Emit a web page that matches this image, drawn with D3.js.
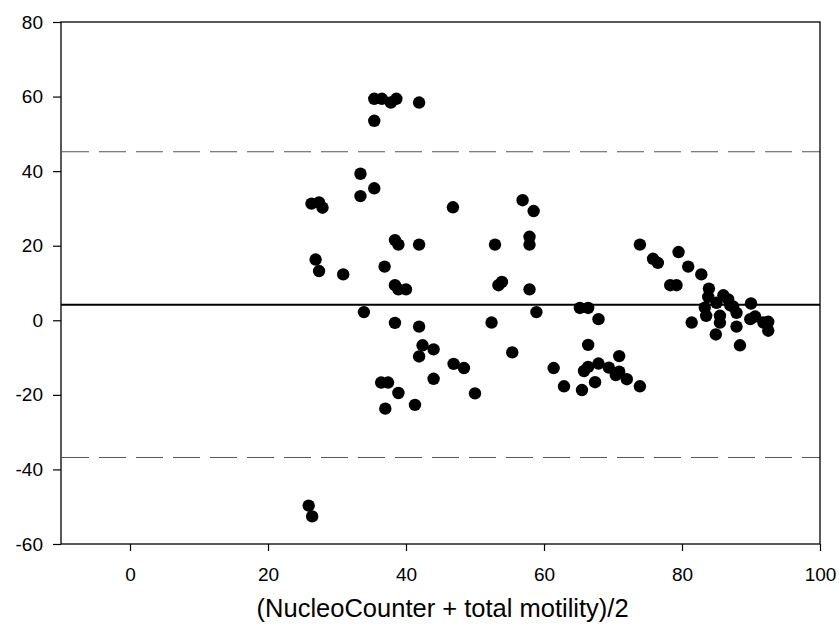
<!DOCTYPE html>
<html>
<head>
<meta charset="utf-8">
<script src="https://cdn.jsdelivr.net/npm/d3@7"></script>
<style>
  body { margin: 0; background: #fff; }
  text { font-family: Arial, "Liberation Sans", sans-serif; fill: #000; }
</style>
</head>
<body>
<svg width="839" height="631"></svg>
<script>
// mean of the two methods (x) and their difference (y)
var meanVals = [35.4, 36.5, 37.8, 38.6, 41.9, 35.4, 33.4, 35.4, 33.4, 26.3, 27.4, 27.9, 46.8,
  38.4, 38.9, 41.9, 26.9, 27.4, 30.9, 36.9, 38.4, 38.9, 40.0, 33.9, 38.4, 41.9, 42.4, 44.0,
  41.9, 46.9, 48.4, 36.4, 37.4, 38.9, 44.0, 50.0, 37.0, 41.3, 25.9, 26.4,
  56.9, 58.5, 52.9, 57.9, 57.9, 53.9, 53.4, 57.9, 58.9, 52.4, 55.4, 61.4, 62.9, 65.5, 67.4,
  65.2, 66.4, 67.9, 66.4, 65.8, 66.4, 67.9, 69.4, 70.9, 70.9, 70.4, 72.0, 73.9,
  73.9, 75.8, 76.5, 78.3, 79.2, 79.5, 80.9, 82.8, 83.9, 83.8, 86.0, 86.7, 83.3, 85.0, 87.4,
  90.0, 83.5, 85.5, 87.9, 81.4, 85.5, 87.9, 89.9, 90.6, 91.8, 92.5, 92.5, 84.9, 88.4, 87.0];
var diffVals = [59.4, 59.4, 58.4, 59.4, 58.4, 53.5, 39.3, 35.4, 33.3, 31.3, 31.6, 30.2, 30.3,
  21.5, 20.3, 20.3, 16.3, 13.2, 12.3, 14.4, 9.4, 8.3, 8.3, 2.2, -0.7, -1.7, -6.7, -7.8,
  -9.7, -11.7, -12.8, -16.7, -16.7, -19.5, -15.7, -19.6, -23.7, -22.7, -49.7, -52.6,
  32.2, 29.3, 20.3, 22.4, 20.3, 10.3, 9.4, 8.3, 2.2, -0.6, -8.6, -12.8, -17.7, -18.7, -16.6,
  3.3, 3.3, 0.3, -6.6, -13.6, -12.5, -11.6, -12.7, -9.6, -13.8, -14.7, -15.8, -17.7,
  20.3, 16.5, 15.4, 9.4, 9.4, 18.3, 14.4, 12.3, 8.5, 6.3, 6.7, 5.6, 3.4, 4.7, 3.7,
  4.5, 1.2, 1.2, 2.0, -0.6, -0.6, -1.7, 0.3, 1.0, -0.6, -0.4, -2.8, -3.8, -6.7, 4.0];

var meanDiff = 4.2;
var limits = [45.2, -36.8];

var xTicks = [0, 20, 40, 60, 80, 100];
var yTicks = [-60, -40, -20, 0, 20, 40, 60, 80];
var xTitle = "(NucleoCounter + total motility)/2";

var svg = d3.select("svg"),
  plotLeft = 61, plotRight = 820, plotTop = 22, plotBottom = 544;

var x = d3.scaleLinear().domain([-10, 100]).range([plotLeft, plotRight]);
var y = d3.scaleLinear().domain([-60, 80]).range([plotBottom, plotTop]);

var data = meanVals.map(function(m, i) { return { m: m, d: diffVals[i] }; });

// limits of agreement
svg.append("g")
  .selectAll("line")
  .data(limits)
  .enter().append("line")
  .attr("x1", plotLeft + 1)
  .attr("x2", plotRight)
  .attr("y1", function(d) { return y(d); })
  .attr("y2", function(d) { return y(d); })
  .attr("stroke", "#555")
  .attr("stroke-width", 1)
  .attr("stroke-dasharray", "27,10");

// mean difference
svg.append("line")
  .attr("x1", plotLeft)
  .attr("x2", plotRight)
  .attr("y1", y(meanDiff))
  .attr("y2", y(meanDiff))
  .attr("stroke", "#000")
  .attr("stroke-width", 2);

// points
svg.append("g")
  .selectAll("circle")
  .data(data)
  .enter().append("circle")
  .attr("cx", function(d) { return x(d.m); })
  .attr("cy", function(d) { return y(d.d); })
  .attr("r", 6.2)
  .attr("fill", "#000");

// frame
svg.append("rect")
  .attr("x", plotLeft)
  .attr("y", plotTop)
  .attr("width", plotRight - plotLeft)
  .attr("height", plotBottom - plotTop)
  .attr("fill", "none")
  .attr("stroke", "#000")
  .attr("stroke-width", 1.3);

var fmt = function(d) { return String(d); }; // plain hyphen minus like the original

var xAxis = svg.append("g")
  .attr("transform", "translate(0," + plotBottom + ")")
  .call(d3.axisBottom(x).tickValues(xTicks).tickFormat(fmt).tickSize(7).tickPadding(17));

var yAxis = svg.append("g")
  .attr("transform", "translate(" + plotLeft + ",0)")
  .call(d3.axisLeft(y).tickValues(yTicks).tickFormat(fmt).tickSize(8).tickPadding(10));

[xAxis, yAxis].forEach(function(a) {
  a.select(".domain").remove();
  a.selectAll("line").attr("stroke", "#000").attr("stroke-width", 1.2);
  a.selectAll("text")
    .attr("font-family", "Arial, 'Liberation Sans', sans-serif")
    .attr("font-size", 19)
    .attr("fill", "#000");
});

svg.append("text")
  .attr("x", x(45.3))
  .attr("y", 617)
  .attr("text-anchor", "middle")
  .attr("font-size", 25.5)
  .text(xTitle);
</script>
</body>
</html>
